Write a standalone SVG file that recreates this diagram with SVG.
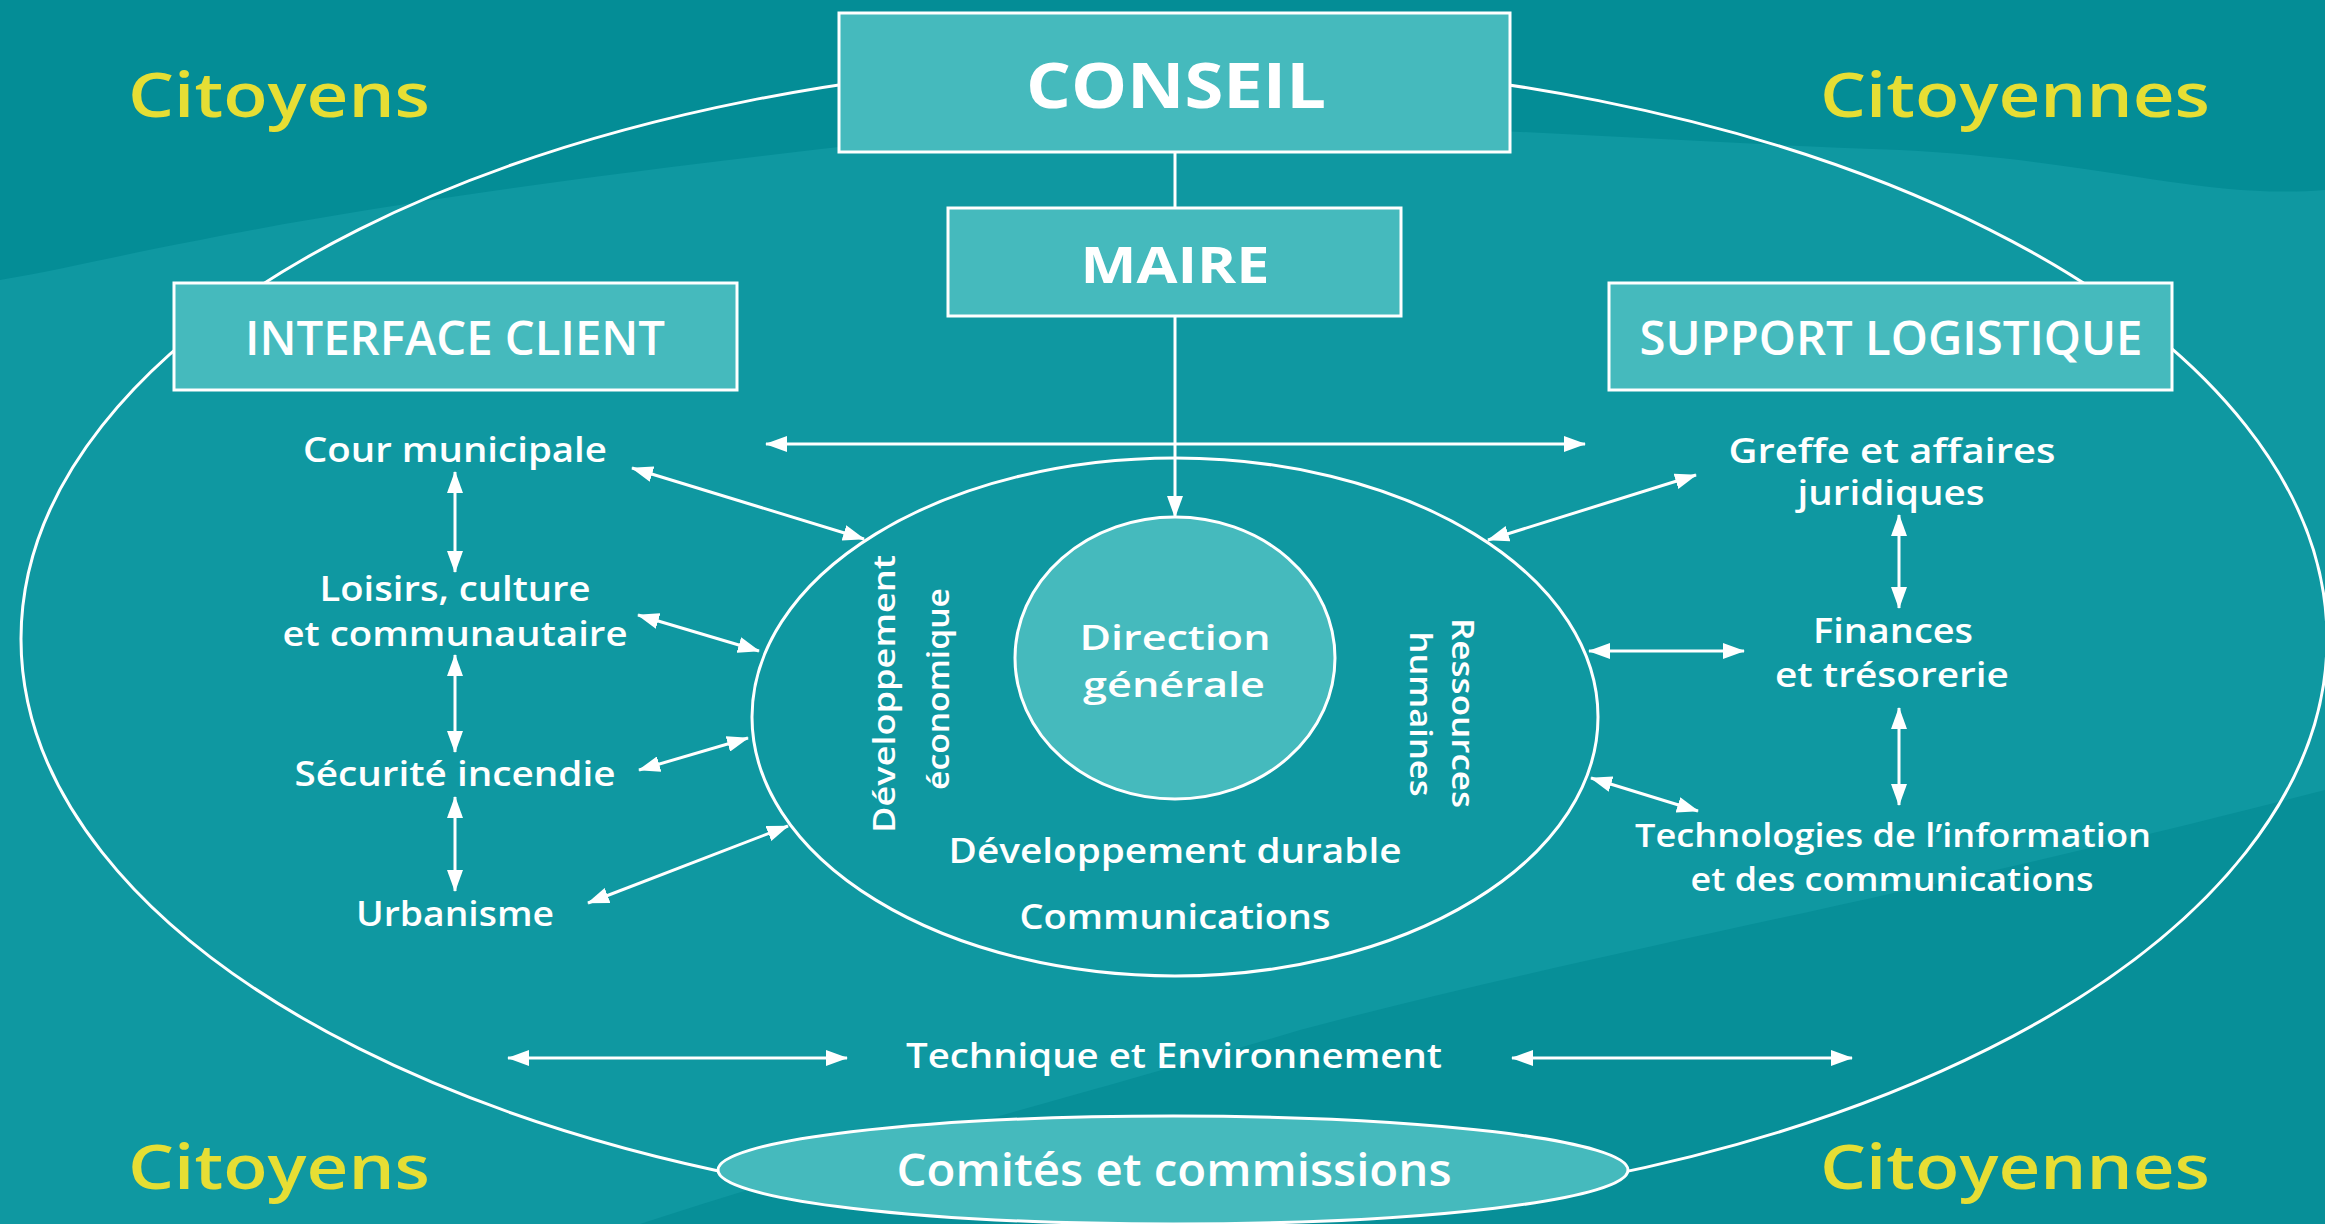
<svg xmlns="http://www.w3.org/2000/svg" width="2325" height="1224" viewBox="0 0 2325 1224">
<defs>
<style>
.t{fill:#fff;font-family:"Open Sans","Noto Sans","DejaVu Sans",sans-serif;font-weight:600;text-anchor:middle}
.h{font-weight:700}
.y{fill:#e6de34;font-family:"Open Sans","Noto Sans","DejaVu Sans",sans-serif;font-weight:600;font-size:62px}
.box{fill:#45babd;stroke:#fff;stroke-width:3}
.ln{fill:none;stroke:#fff;stroke-width:3}
.ar{fill:none;stroke:#fff;stroke-width:3;marker-start:url(#ah);marker-end:url(#ah)}
.ar1{fill:none;stroke:#fff;stroke-width:3;marker-end:url(#ah)}
</style>
<marker id="ah" viewBox="0 0 22 16" refX="21" refY="8" markerWidth="22" markerHeight="16" markerUnits="userSpaceOnUse" orient="auto-start-reverse">
<path d="M0,0 L22,8 L0,16 z" fill="#fff"/>
</marker>
</defs>
<g id="background">
<rect width="2325" height="1224" fill="#0f98a1"/>
<path d="M0,0 H2325 V190 C2200,200 2100,160 1900,150 C1600,140 1300,110 1000,130 C700,160 400,200 200,240 C120,255 60,270 0,280 Z" fill="#048d96"/>
<path d="M640,1224 C900,1140 1100,1090 1300,1030 C1600,950 1900,900 2325,790 V1224 Z" fill="#078f98"/>
</g>
<g id="outer-ellipse"><ellipse class="ln" cx="1174" cy="639" rx="1153" ry="579"/></g>
<g id="connectors">
<line class="ln" x1="1175" y1="152" x2="1175" y2="208"/>
<line class="ar1" x1="1175" y1="316" x2="1175" y2="517"/>
<line class="ar" x1="766" y1="444" x2="1585" y2="444"/>
<line class="ar" x1="632" y1="468" x2="864" y2="539"/>
<line class="ar" x1="455" y1="472" x2="455" y2="572"/>
<line class="ar" x1="638" y1="615" x2="759" y2="651"/>
<line class="ar" x1="455" y1="655" x2="455" y2="752"/>
<line class="ar" x1="639" y1="770" x2="748" y2="738"/>
<line class="ar" x1="455" y1="797" x2="455" y2="891"/>
<line class="ar" x1="588" y1="903" x2="788" y2="826"/>
<line class="ar" x1="1696" y1="475" x2="1488" y2="540"/>
<line class="ar" x1="1899" y1="515" x2="1899" y2="608"/>
<line class="ar" x1="1589" y1="651" x2="1744" y2="651"/>
<line class="ar" x1="1899" y1="708" x2="1899" y2="805"/>
<line class="ar" x1="1591" y1="778" x2="1698" y2="811"/>
<line class="ar" x1="508" y1="1058" x2="847" y2="1058"/>
<line class="ar" x1="1512" y1="1058" x2="1852" y2="1058"/>
</g>
<g id="conseil"><rect class="box" x="839" y="13" width="671" height="139"/><text class="t h" x="1176" y="108" font-size="63" textLength="300" lengthAdjust="spacingAndGlyphs">CONSEIL</text></g>
<g id="maire"><rect class="box" x="948" y="208" width="453" height="108"/><text class="t h" x="1175" y="283" font-size="50" textLength="189" lengthAdjust="spacingAndGlyphs">MAIRE</text></g>
<g id="interface-client"><rect class="box" x="174" y="283" width="563" height="107"/><text class="t" x="455" y="355" font-size="47" textLength="420" lengthAdjust="spacingAndGlyphs">INTERFACE CLIENT</text></g>
<g id="support-logistique"><rect class="box" x="1609" y="283" width="563" height="107"/><text class="t" x="1891" y="355" font-size="47" textLength="503" lengthAdjust="spacingAndGlyphs">SUPPORT LOGISTIQUE</text></g>
<g id="citoyens-tl"><text class="y" x="128" y="117" textLength="302" lengthAdjust="spacingAndGlyphs">Citoyens</text></g>
<g id="citoyennes-tr"><text class="y" x="1820" y="117" textLength="390" lengthAdjust="spacingAndGlyphs">Citoyennes</text></g>
<g id="citoyens-bl"><text class="y" x="128" y="1189" textLength="302" lengthAdjust="spacingAndGlyphs">Citoyens</text></g>
<g id="citoyennes-br"><text class="y" x="1820" y="1189" textLength="390" lengthAdjust="spacingAndGlyphs">Citoyennes</text></g>
<g id="cour"><text class="t" x="455" y="462" font-size="35" textLength="304" lengthAdjust="spacingAndGlyphs">Cour municipale</text></g>
<g id="loisirs"><text class="t" x="455" y="601" font-size="35" textLength="271" lengthAdjust="spacingAndGlyphs">Loisirs, culture</text><text class="t" x="455" y="646" font-size="35" textLength="345" lengthAdjust="spacingAndGlyphs">et communautaire</text></g>
<g id="securite"><text class="t" x="455" y="786" font-size="35" textLength="321" lengthAdjust="spacingAndGlyphs">Sécurité incendie</text></g>
<g id="urbanisme"><text class="t" x="455" y="926" font-size="35" textLength="198" lengthAdjust="spacingAndGlyphs">Urbanisme</text></g>
<g id="greffe"><text class="t" x="1892" y="463" font-size="34" textLength="327" lengthAdjust="spacingAndGlyphs">Greffe et affaires</text><text class="t" x="1891" y="505" font-size="34" textLength="187" lengthAdjust="spacingAndGlyphs">juridiques</text></g>
<g id="finances"><text class="t" x="1893" y="643" font-size="35" textLength="160" lengthAdjust="spacingAndGlyphs">Finances</text><text class="t" x="1892" y="687" font-size="35" textLength="234" lengthAdjust="spacingAndGlyphs">et trésorerie</text></g>
<g id="technologies"><text class="t" x="1893" y="847" font-size="33" textLength="516" lengthAdjust="spacingAndGlyphs">Technologies de l’information</text><text class="t" x="1892" y="891" font-size="33" textLength="403" lengthAdjust="spacingAndGlyphs">et des communications</text></g>
<g id="services">
<ellipse class="ln" cx="1175" cy="717" rx="423" ry="259"/>
<text class="t" transform="translate(895,694) rotate(-90)" font-size="31" textLength="278" lengthAdjust="spacingAndGlyphs">Développement</text>
<text class="t" transform="translate(949,689) rotate(-90)" font-size="31" textLength="202" lengthAdjust="spacingAndGlyphs">économique</text>
<text class="t" transform="translate(1452,713) rotate(90)" font-size="31" textLength="190" lengthAdjust="spacingAndGlyphs">Ressources</text>
<text class="t" transform="translate(1410,714) rotate(90)" font-size="31" textLength="165" lengthAdjust="spacingAndGlyphs">humaines</text>
<text class="t" x="1175" y="863" font-size="35" textLength="453" lengthAdjust="spacingAndGlyphs">Développement durable</text>
<text class="t" x="1175" y="929" font-size="35" textLength="311" lengthAdjust="spacingAndGlyphs">Communications</text>
</g>
<g id="direction"><ellipse class="box" cx="1175" cy="658" rx="160" ry="141"/><text class="t" x="1175" y="650" font-size="34" textLength="191" lengthAdjust="spacingAndGlyphs">Direction</text><text class="t" x="1174" y="697" font-size="34" textLength="182" lengthAdjust="spacingAndGlyphs">générale</text></g>
<g id="technique"><text class="t" x="1174" y="1068" font-size="35" textLength="536" lengthAdjust="spacingAndGlyphs">Technique et Environnement</text></g>
<g id="comites"><ellipse class="box" cx="1173" cy="1170" rx="455" ry="54"/><text class="t" x="1174" y="1186" font-size="45" textLength="555" lengthAdjust="spacingAndGlyphs">Comités et commissions</text></g>
</svg>
